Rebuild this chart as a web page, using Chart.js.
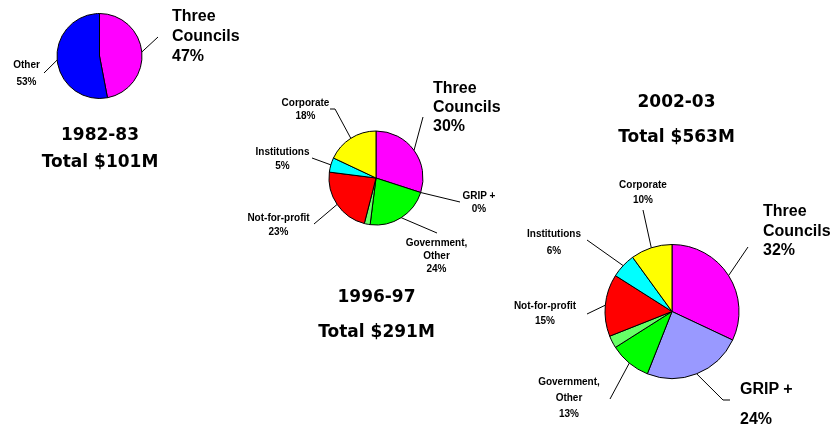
<!DOCTYPE html>
<html>
<head>
<meta charset="utf-8">
<script src="https://cdn.jsdelivr.net/npm/chart.js@4"></script>
<style>
  body { margin: 0; background: #fff; }
  #wrap { position: relative; width: 832px; height: 425px; overflow: hidden; }
  #wrap canvas { position: absolute; left: 0; top: 0; }
  .lbl { position: absolute; white-space: pre; font-family: "Liberation Sans", Arial, sans-serif; font-weight: bold; color: #000; }
  .mid { transform: translateX(-50%); text-align: center; }
  .ttl { position: absolute; white-space: pre; font-family: "DejaVu Sans", Verdana, sans-serif; font-weight: bold; font-size: 17px; line-height: 35px; color: #000; transform: translateX(-50%); text-align: center; }
</style>
</head>
<body>
<div id="wrap">
  <canvas id="pie1982" width="832" height="425"></canvas>
  <canvas id="pie1997" width="832" height="425"></canvas>
  <canvas id="pie2003" width="832" height="425"></canvas>
</div>
<script>
// funding sources by year (% of total)
const years = ['1982-83', '1996-97', '2002-03'];
const totals = [101, 291, 563]; // $M

const sources1982 = ['Three\nCouncils', 'Other'];
const shares1982 = [47, 53];

const sources = ['Three\nCouncils', 'GRIP +', 'Government,\nOther', 'Not-for-profit', 'Institutions', 'Corporate'];
const shares1997 = [30, 0, 24, 23, 5, 18];
const shares2003 = [32, 24, 13, 15, 6, 10];
// lighter green wedge inside "Government, Other"
const otherGov1997 = 2;
const otherGov2003 = 3;

const colors1982 = ['#FF00FF', '#0000FF'];
const colors = ['#FF00FF', '#9999FF', '#00FF00', '#66FF66', '#FF0000', '#00FFFF', '#FFFF00'];

const W = 832, H = 425;
const wrap = document.getElementById('wrap');

function splitGov(shares, otherGov) {
  return [shares[0], shares[1], shares[2] - otherGov, otherGov, shares[3], shares[4], shares[5]];
}

function leaderPlugin(lines) {
  return {
    id: 'leaderLines',
    afterDatasetsDraw(chart) {
      const arcs = chart.getDatasetMeta(0).data;
      const ctx = chart.ctx;
      ctx.save();
      ctx.strokeStyle = '#000';
      ctx.lineWidth = 1;
      lines.forEach(l => {
        const a = arcs[l.slice].getProps(['x', 'y', 'startAngle', 'endAngle', 'outerRadius'], true);
        const m = (a.startAngle + a.endAngle) / 2;
        ctx.beginPath();
        ctx.moveTo(a.x + Math.cos(m) * a.outerRadius, a.y + Math.sin(m) * a.outerRadius);
        l.to.forEach(p => ctx.lineTo(p[0], p[1]));
        ctx.stroke();
      });
      ctx.restore();
    }
  };
}

function addLabel(text, p) {
  const d = document.createElement('div');
  d.className = 'lbl' + (p.align === 'left' ? '' : ' mid');
  d.textContent = text;
  d.style.left = p.x + 'px';
  d.style.top = p.top + 'px';
  d.style.fontSize = p.size + 'px';
  d.style.lineHeight = p.lh + 'px';
  wrap.appendChild(d);
}

function addTitle(i, x, top, lh) {
  const d = document.createElement('div');
  d.className = 'ttl';
  d.textContent = years[i] + '\nTotal $' + totals[i] + 'M';
  d.style.left = x + 'px';
  d.style.top = top + 'px';
  d.style.lineHeight = lh + 'px';
  wrap.appendChild(d);
}

function drawPie(id, cx, cy, r, values, fills, names, shares, places) {
  const lines = places.map(p => ({ slice: p.slice, to: p.to }));
  new Chart(document.getElementById(id), {
    type: 'pie',
    data: {
      labels: values.map((v, i) => 'slice ' + i),
      datasets: [{
        data: values,
        backgroundColor: fills,
        borderColor: '#000',
        borderWidth: 1
      }]
    },
    options: {
      responsive: false,
      animation: false,
      events: [],
      layout: {
        padding: {
          left: cx - r - 0.5,
          right: W - cx - r - 0.5,
          top: cy - r - 0.5,
          bottom: H - cy - r - 0.5
        }
      },
      plugins: { legend: { display: false }, tooltip: { enabled: false } }
    },
    plugins: [leaderPlugin(lines)]
  });
  places.forEach((p, i) => addLabel(names[i] + '\n' + shares[i] + '%', p));
}

// 1982-83
drawPie('pie1982', 99.5, 56, 42.5, shares1982, colors1982, sources1982, shares1982, [
  { slice: 0, x: 172, top: 6, size: 16, lh: 20, align: 'left', to: [[158, 37]] },
  { slice: 1, x: 26.5, top: 56, size: 10, lh: 17, to: [[44, 73]] }
]);
addTitle(0, 100, 121, 27);

// 1996-97
drawPie('pie1997', 376, 178, 47, splitGov(shares1997, otherGov1997), colors, sources, shares1997, [
  { slice: 0, x: 433, top: 78, size: 16, lh: 19, align: 'left', to: [[423, 117]] },
  { slice: 1, x: 479, top: 189, size: 10, lh: 13, to: [[460, 202]] },
  { slice: 2, x: 436.5, top: 236, size: 10, lh: 13, to: [[437, 233]] },
  { slice: 4, x: 278.5, top: 211, size: 10, lh: 14, to: [[314, 224]] },
  { slice: 5, x: 282.5, top: 145, size: 10, lh: 14, to: [[312, 158]] },
  { slice: 6, x: 305.5, top: 96, size: 10, lh: 13, to: [[335, 109], [330, 109]] }
]);
addTitle(1, 376.5, 279, 35);

// 2002-03
drawPie('pie2003', 672, 311.5, 67, splitGov(shares2003, otherGov2003), colors, sources, shares2003, [
  { slice: 0, x: 763, top: 201, size: 16, lh: 19.5, align: 'left', to: [[748, 247]] },
  { slice: 1, x: 740, top: 374, size: 16, lh: 30, align: 'left', to: [[723, 400], [730, 400]] },
  { slice: 2, x: 569, top: 374, size: 10, lh: 16, to: [[610, 399]] },
  { slice: 4, x: 545, top: 298, size: 10, lh: 15, to: [[587, 314]] },
  { slice: 5, x: 554, top: 225, size: 10, lh: 17, to: [[587, 240]] },
  { slice: 6, x: 643, top: 177, size: 10, lh: 15, to: [[643, 210]] }
]);
addTitle(2, 676.5, 84, 35);
</script>
</body>
</html>
